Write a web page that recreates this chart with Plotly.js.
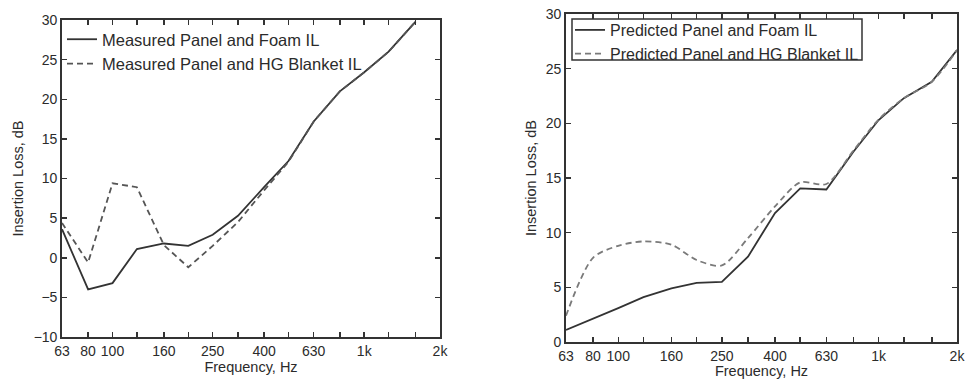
<!DOCTYPE html>
<html>
<head>
<meta charset="utf-8">
<script src="https://cdn.plot.ly/plotly-3.0.1.min.js"></script>
<style>html,body{margin:0;padding:0;background:#fff;}#chart{width:966px;height:379px;}</style>
</head>
<body>
<div id="chart"></div>
<script>
// One-third-octave band centre frequencies, Hz
const freqs = [63, 80, 100, 125, 160, 200, 250, 315, 400, 500, 630, 800, 1000, 1250, 1600, 2000];
const freqTickText = ['63', '80', '100', '', '160', '', '250', '', '400', '', '630', '', '1k', '', '', '2k'];

// Left panel: measured insertion loss, dB (63 Hz .. 1600 Hz)
const measuredFreqs = [63, 80, 100, 125, 160, 200, 250, 315, 400, 500, 630, 800, 1000, 1250, 1600];
const measuredFoam = [3.6, -4.0, -3.2, 1.1, 1.8, 1.5, 2.9, 5.3, 8.9, 12.2, 17.2, 21.0, 23.4, 26.0, 29.8];
const measuredHG   = [4.4, -0.6, 9.4, 8.9, 1.6, -1.2, 1.5, 4.5, 8.5, 12.1, 17.2, 21.0, 23.4, 26.0, 29.8];

// Right panel: predicted insertion loss, dB
const predictedFoam = [1.1, 2.1, 3.1, 4.1, 4.9, 5.4, 5.5, 7.8, 11.8, 14.05, 13.95, 17.4, 20.3, 22.3, 23.8, 26.7];
const predictedHG   = [2.4, 7.7, 8.8, 9.2, 8.9, 7.5, 7.0, 9.5, 12.4, 14.6, 14.45, 17.5, 20.35, 22.3, 23.8, 26.7];

const yTicksLeft = [-10, -5, 0, 5, 10, 15, 20, 25, 30];
const yTicksRight = [0, 5, 10, 15, 20, 25, 30];

const fontFam = 'Liberation Sans, Arial, Helvetica, sans-serif';
const txtCol = '#2b2b2b';
const axCol = '#333333';

const traces = [
  {x: measuredFreqs, y: measuredFoam, name: 'Measured Panel and Foam IL', xaxis: 'x', yaxis: 'y', legend: 'legend',
   mode: 'lines', line: {color: '#333333', width: 1.8}},
  {x: measuredFreqs, y: measuredHG, name: 'Measured Panel and HG Blanket IL', xaxis: 'x', yaxis: 'y', legend: 'legend',
   mode: 'lines', line: {color: '#555555', width: 1.8, dash: '6px,4px'}},
  {x: freqs, y: predictedFoam, name: 'Predicted Panel and Foam IL', xaxis: 'x2', yaxis: 'y2', legend: 'legend2',
   mode: 'lines', line: {color: '#333333', width: 1.8}},
  {x: freqs, y: predictedHG, name: 'Predicted Panel and HG Blanket IL', xaxis: 'x2', yaxis: 'y2', legend: 'legend2',
   mode: 'lines', line: {color: '#7a7a7a', width: 1.8, dash: '6px,4px', shape: 'spline', smoothing: 0.8}}
];

function xAxis(domain, anchor) {
  return {
    type: 'log', domain: domain, anchor: anchor,
    range: [Math.log10(63), Math.log10(2000)],
    tickmode: 'array', tickvals: freqs, ticktext: freqTickText,
    ticks: 'inside', ticklen: 5, tickwidth: 1.5, tickcolor: axCol,
    showline: true, linecolor: axCol, linewidth: 1.8, mirror: 'ticks',
    showgrid: false, zeroline: false,
    tickfont: {family: fontFam, size: 14, color: txtCol},
    title: {text: 'Frequency, Hz', font: {family: fontFam, size: 14.5, color: txtCol}, standoff: 3},
    automargin: false
  };
}
function yAxis(domain, anchor, range, ticks) {
  return {
    domain: domain, anchor: anchor, range: range,
    tickmode: 'array', tickvals: ticks,
    ticks: 'inside', ticklen: 5, tickwidth: 1.5, tickcolor: axCol,
    showline: true, linecolor: axCol, linewidth: 1.8, mirror: 'ticks',
    showgrid: false, zeroline: false,
    tickfont: {family: fontFam, size: 14, color: txtCol},
    title: {text: 'Insertion Loss, dB', font: {family: fontFam, size: 14.5, color: txtCol}, standoff: 6},
    automargin: false
  };
}

const W = 966, H = 379;
const layout = {
  width: W, height: H,
  margin: {l: 0, r: 0, t: 0, b: 0},
  paper_bgcolor: '#ffffff', plot_bgcolor: '#ffffff',
  font: {family: fontFam, color: txtCol},
  xaxis: xAxis([62 / W, 440 / W], 'y'),
  yaxis: yAxis([(H - 337) / H, (H - 20) / H], 'x', [-10, 30], yTicksLeft),
  xaxis2: xAxis([566 / W, 957 / W], 'y2'),
  yaxis2: yAxis([(H - 342) / H, (H - 14) / H], 'x2', [0, 30], yTicksRight),
  legend: {
    x: 62 / W, y: (H - 22) / H, xanchor: 'left', yanchor: 'top',
    bgcolor: 'rgba(255,255,255,0)', borderwidth: 0,
    font: {family: fontFam, size: 16.5, color: txtCol},
    tracegroupgap: 0, itemwidth: 30
  },
  legend2: {
    x: 570 / W, y: (H - 13) / H, xanchor: 'left', yanchor: 'top',
    bgcolor: 'rgba(255,255,255,0)', borderwidth: 0,
    font: {family: fontFam, size: 16, color: txtCol},
    tracegroupgap: 0, itemwidth: 30
  },
  shapes: [
    {type: 'rect', xref: 'paper', yref: 'paper', layer: 'above',
     x0: 572 / W, x1: 862 / W, y0: (H - 60) / H, y1: (H - 19) / H,
     line: {color: '#333333', width: 1.5}, fillcolor: '#ffffff'}
  ],
  showlegend: true
};

Plotly.newPlot('chart', traces, layout, {displayModeBar: false, staticPlot: true});
</script>
</body>
</html>
